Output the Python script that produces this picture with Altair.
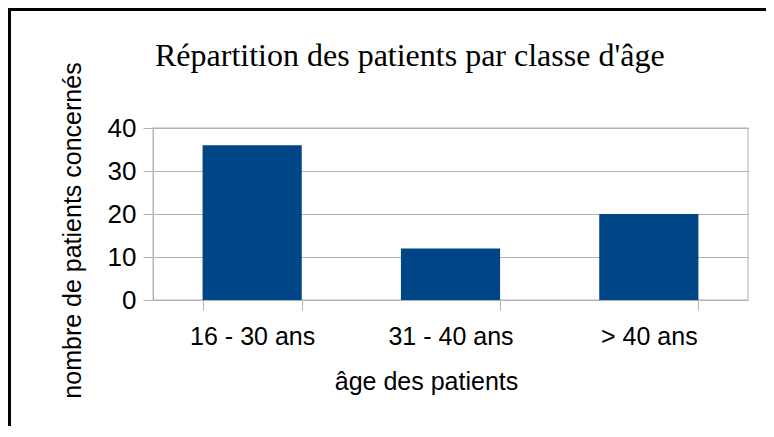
import altair as alt
import pandas as pd

categories = ["16 - 30 ans", "31 - 40 ans", "> 40 ans"]
values = [36, 12, 20]
y_ticks = [0, 10, 20, 30, 40]

title_text = "Répartition des patients par classe d'âge"
x_title = "âge des patients"
y_title = "nombre de patients concernés"

df = pd.DataFrame({"cat": categories, "val": values})

W, H = 595, 172
PL, PT, PR, PB = 145, 120, 18, 126
SANS = "Liberation Sans"
GRID = "#b3b3b3"

bars = alt.Chart(df).mark_bar(color="#004586").encode(
    x=alt.X(
        "cat:N",
        sort=categories,
        scale=alt.Scale(paddingInner=0.5, paddingOuter=0.25),
        axis=alt.Axis(
            title=x_title,
            labelAngle=0,
            tickBand="extent",
            ticks=True,
            tickSize=10,
            tickColor=GRID,
            domainColor=GRID,
            labelFont=SANS,
            labelFontSize=25,
            labelColor="black",
            labelPadding=14,
            titleFont=SANS,
            titleFontSize=25,
            titleFontWeight="normal",
            titleColor="black",
            titlePadding=20,
            titleX=273,
            grid=False,
        ),
    ),
    y=alt.Y(
        "val:Q",
        scale=alt.Scale(domain=[0, 40], nice=False),
        axis=alt.Axis(
            title=y_title,
            values=y_ticks,
            tickSize=10,
            tickColor=GRID,
            domainColor=GRID,
            gridColor=GRID,
            labelFont=SANS,
            labelFontSize=26,
            labelColor="black",
            labelPadding=7,
            titleFont=SANS,
            titleFontSize=25,
            titleFontWeight="normal",
            titleColor="black",
            titlePadding=22,
            titleY=102,
        ),
    ),
)

frame_df = pd.DataFrame({"a": [0]})
top_line = alt.Chart(frame_df).mark_rule(color="black", strokeWidth=3).encode(
    x=alt.value(-PL), x2=alt.value(W + PR), y=alt.value(-PT + 1.5)
)
left_line = alt.Chart(frame_df).mark_rule(color="black", strokeWidth=3).encode(
    x=alt.value(-PL + 1.5), y=alt.value(-PT), y2=alt.value(H + PB)
)

chart = alt.layer(bars, top_line, left_line).properties(
    width=W,
    height=H,
    autosize=alt.AutoSizeParams(type="none"),
    padding={"left": PL, "top": PT, "right": PR, "bottom": PB},
    title=alt.TitleParams(
        title_text,
        font="Liberation Serif",
        fontSize=32,
        fontWeight="normal",
        color="black",
        anchor="start",
        frame="group",
        baseline="alphabetic",
        offset=-91,
        dx=2,
    ),
).configure_view(stroke="#cccccc", strokeWidth=1.5).configure_axis(labelFlush=False)

chart.save("out.html", embed_options={"renderer": "svg", "actions": False})
